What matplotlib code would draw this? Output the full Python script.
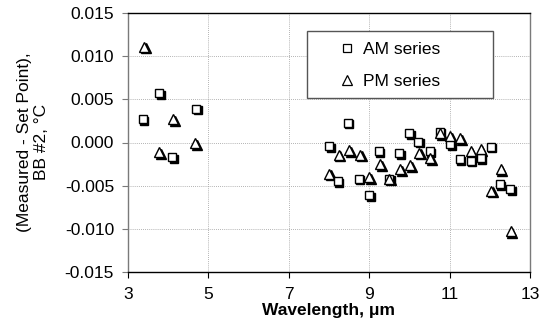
#!/usr/bin/env python3
# -*- coding: utf-8 -*-
"""Measured - set point vs wavelength, BB #2 (AM / PM series)."""

import matplotlib
matplotlib.use('Agg')
import matplotlib.pyplot as plt
import matplotlib.transforms as mtransforms
from matplotlib.patches import Rectangle
from matplotlib.ticker import FormatStrFormatter, MultipleLocator

plt.rcParams['font.family'] = ['Liberation Sans', 'DejaVu Sans']
plt.rcParams['axes.unicode_minus'] = False

# --- data ---
am_wl = [3.37, 3.77, 4.10, 4.70,
         8.00, 8.22, 8.47, 8.74, 9.00, 9.24, 9.50, 9.75, 10.00, 10.22,
         10.50, 10.75, 11.02, 11.25, 11.52, 11.77, 12.02, 12.25, 12.50]
am_dev = [0.0027, 0.0057, -0.0017, 0.0039,
          -0.0004, -0.0045, 0.0023, -0.0042, -0.0061, -0.0010, -0.0042,
          -0.00125, 0.00105, 0.0001, -0.0010, 0.00125, -0.0002, -0.0019,
          -0.0021, -0.0018, -0.0005, -0.0048, -0.0054]

pm_wl = [3.40, 3.77, 4.12, 4.67,
         8.00, 8.24, 8.50, 8.77, 9.00, 9.27, 9.50, 9.77, 10.02, 10.25,
         10.52, 10.77, 11.02, 11.27, 11.52, 11.77, 12.03, 12.27, 12.52]
pm_dev = [0.0111, -0.0011, 0.0027, -0.0001,
          -0.0036, -0.0014, -0.0009, -0.0014, -0.0040, -0.0025, -0.0042,
          -0.0031, -0.0026, -0.0012, -0.0018, 0.00105, 0.0007, 0.0005,
          -0.0010, -0.0008, -0.0056, -0.0031, -0.0103]

x_ticks = [3, 5, 7, 9, 11, 13]

FS = 12.5

fig = plt.figure(figsize=(5.43, 3.33), dpi=100)
ax = fig.add_axes([128 / 543, 61 / 333, 402 / 543, 259 / 333])

# cień pod markerami (przesunięcie w pikselach)
shadow = mtransforms.offset_copy(ax.transData, fig=fig, x=1.6, y=-1.6, units='dots')

for wl, dev, mk, ms in [(am_wl, am_dev, 's', 6.2), (pm_wl, pm_dev, '^', 7.2)]:
    ax.plot(wl, dev, linestyle='none', marker=mk, markersize=ms,
            color='black', transform=shadow, zorder=3)
    ax.plot(wl, dev, linestyle='none', marker=mk, markersize=ms,
            markerfacecolor='white', markeredgecolor='black',
            markeredgewidth=1.0, zorder=4)

ax.set_xlim(3, 13)
ax.set_ylim(-0.015, 0.015)
ax.set_xticks(x_ticks)
ax.yaxis.set_major_locator(MultipleLocator(0.005))
ax.yaxis.set_major_formatter(FormatStrFormatter('%.3f'))

ax.grid(True, color='#9a9a9a', linestyle=(0, (1, 1.5)), linewidth=0.6)
ax.set_axisbelow(True)

for side in ['top', 'bottom']:
    ax.spines[side].set_color('black')
    ax.spines[side].set_linewidth(1.0)
for side in ['left', 'right']:
    ax.spines[side].set_color('#7a7a7a')
    ax.spines[side].set_linewidth(1.0)

ax.tick_params(axis='both', direction='out', labelsize=FS, colors='black')
ax.tick_params(axis='y', length=4.5, pad=5.5, color='#7a7a7a')
ax.tick_params(axis='x', length=4.5, pad=6)

# legenda z ręczną ramką
frame = Rectangle(((307 - 128) / 402, (272 - 98) / 259), 186 / 402, 67 / 259,
                  transform=ax.transAxes, facecolor='white', edgecolor='#555555',
                  linewidth=1.0, zorder=5)
ax.add_patch(frame)
h_am = plt.Line2D([], [], linestyle='none', marker='s', markersize=5.5,
                  markerfacecolor='white', markeredgecolor='black', markeredgewidth=0.9)
h_pm = plt.Line2D([], [], linestyle='none', marker='^', markersize=6.5,
                  markerfacecolor='white', markeredgecolor='black', markeredgewidth=0.9)
leg = ax.legend([h_am, h_pm], ['AM series', 'PM series'], frameon=False,
                loc='upper left', bbox_to_anchor=((337 - 128) / 402, (272 - 42) / 259),
                fontsize=FS, handlelength=1.2, handletextpad=0.3,
                labelspacing=0.95, borderpad=0, borderaxespad=0)
leg.set_zorder(6)

fig.text(33 / 543, (333 - 142) / 333, '(Measured - Set Point),\nBB #2, \u00b0C',
         rotation=90, ha='center', va='center', multialignment='center', fontsize=FS,
         linespacing=1.1)
fig.text(329 / 543, (333 - 311) / 333, 'Wavelength, \u03bcm', ha='center', va='center',
         fontsize=FS, fontweight='bold')

fig.savefig('out.png', dpi=100)
